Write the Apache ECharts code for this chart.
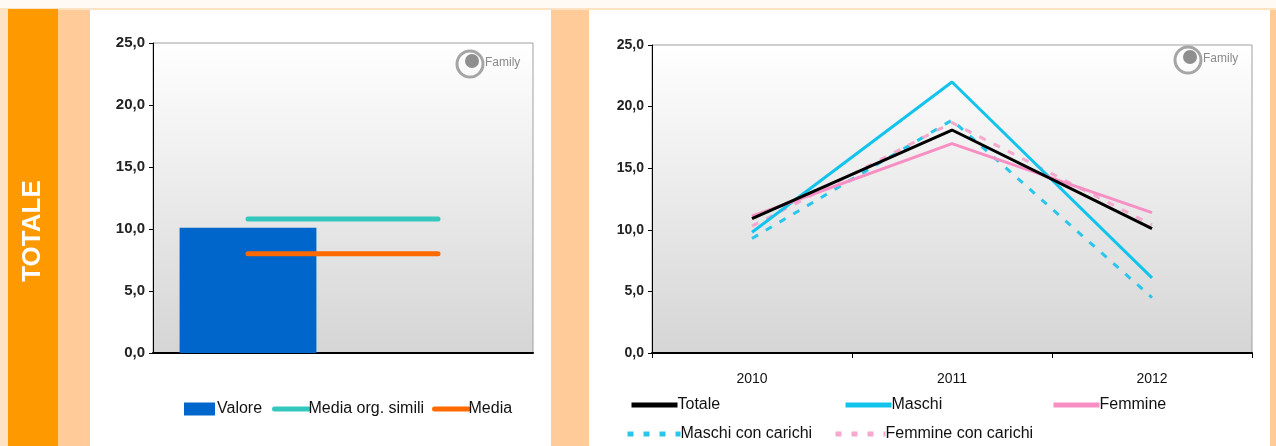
<!DOCTYPE html>
<html>
<head>
<meta charset="utf-8">
<script src="https://cdn.jsdelivr.net/npm/echarts@6/dist/echarts.min.js"></script>
<style>
  body { margin: 0; background: #fff; }
  #wrap { position: relative; width: 1276px; height: 446px; overflow: hidden; background: #fffaf3; }
  .band { position: absolute; }
  #chart { position: absolute; left: 0; top: 0; width: 1276px; height: 446px; }
</style>
</head>
<body>
<div id="wrap">
  <div class="band" style="left:0;top:8px;width:1276px;height:438px;background:#fde2c4;"></div>
  <div class="band" style="left:8px;top:9px;width:50px;height:437px;background:#ff9900;"></div>
  <div class="band" style="left:58px;top:10px;width:32px;height:436px;background:#ffcc99;"></div>
  <div class="band" style="left:90px;top:10px;width:461px;height:436px;background:#ffffff;"></div>
  <div class="band" style="left:551px;top:10px;width:38px;height:436px;background:#ffcc99;"></div>
  <div class="band" style="left:589px;top:10px;width:681px;height:436px;background:#ffffff;"></div>
  <div class="band" style="left:1270px;top:10px;width:6px;height:436px;background:#ffcc99;"></div>
  <div id="chart"></div>
</div>
<script>
// left chart: value vs averages
var leftCats = ['', ''];
var valore = [10.1, null];
var mediaSimili = [10.8, 10.8];
var media = [8.0, 8.0];

// right chart: trend by year
var years = ['2010', '2011', '2012'];
var totale = [10.9, 18.1, 10.1];
var maschi = [9.8, 22.0, 6.1];
var femmine = [11.1, 17.0, 11.4];
var maschiCarichi = [9.3, 18.9, 4.5];
var femmineCarichi = [10.3, 18.7, 10.4];

var yTicks = [0, 5, 10, 15, 20, 25];

var chart = echarts.init(document.getElementById('chart'));

function plotBg() {
  return new echarts.graphic.LinearGradient(0, 0, 0, 1, [
    { offset: 0, color: '#ffffff' },
    { offset: 1, color: '#d5d5d5' }
  ]);
}

function fmt(v) {
  return v.toFixed(1).replace('.', ',');
}

var sans = "'Liberation Sans', Arial, sans-serif";

function yAxis(idx, size) {
  return {
    type: 'value', gridIndex: idx,
    min: yTicks[0], max: yTicks[yTicks.length - 1], interval: 5,
    axisLine: { show: true, lineStyle: { color: '#000', width: 1 } },
    axisTick: { show: true, length: 4, lineStyle: { color: '#000' } },
    splitLine: { show: false },
    axisLabel: { formatter: fmt, color: '#222', fontWeight: 'bold', fontFamily: sans, fontSize: size, margin: 8 }
  };
}

function watermark(x, y) {
  return [
    { type: 'circle', shape: { cx: x, cy: y, r: 13 }, style: { fill: 'none', stroke: '#a5a5a5', lineWidth: 3 } },
    { type: 'circle', shape: { cx: x + 2, cy: y - 3, r: 7 }, style: { fill: '#8f8f8f' } },
    { type: 'text', x: x + 15, y: y - 1, style: { text: 'Family', fill: '#8a8a8a', font: '12px ' + sans, verticalAlign: 'middle' } }
  ];
}

function lineSeries(name, data, color, dashed) {
  return {
    name: name, type: 'line', xAxisIndex: 1, yAxisIndex: 1, data: data,
    symbol: 'none', color: color,
    lineStyle: { color: color, width: 3, type: dashed ? [7, 9] : 'solid' }
  };
}

function lineLegend(name, left, top, width, size, dash) {
  return {
    data: [name], left: left, top: top, orient: 'horizontal',
    itemWidth: width, itemHeight: 14, itemGap: 4,
    itemStyle: { opacity: 0 },
    lineStyle: { width: 5, type: dash ? [6, 10] : 'solid' },
    textStyle: { fontFamily: sans, fontSize: size, color: '#111', padding: [0, 0, 0, -5] }
  };
}

chart.setOption({
  animation: false,
  grid: [
    { left: 153, right: 743, top: 43, bottom: 93, show: true, backgroundColor: plotBg(), borderColor: '#a0a0a0', borderWidth: 1 },
    { left: 652, right: 24, top: 45, bottom: 93, show: true, backgroundColor: plotBg(), borderColor: '#a0a0a0', borderWidth: 1 }
  ],
  xAxis: [
    {
      type: 'category', gridIndex: 0, data: leftCats,
      axisLine: { lineStyle: { color: '#000', width: 2 } },
      axisTick: { show: false }, axisLabel: { show: false }
    },
    {
      type: 'category', gridIndex: 1, data: years,
      axisLine: { lineStyle: { color: '#000', width: 2 } },
      axisTick: { show: true, length: 5, lineStyle: { color: '#000' } },
      axisLabel: { color: '#111', fontFamily: sans, fontSize: 14, margin: 19 }
    }
  ],
  yAxis: [yAxis(0, 15), yAxis(1, 14)],
  legend: [
    {
      data: ['Valore'], left: 179, top: 396, icon: 'rect',
      itemWidth: 31, itemHeight: 13,
      textStyle: { fontFamily: sans, fontSize: 16, color: '#111', padding: [0, 0, 0, -3] }
    },
    lineLegend('Media org. simili', 267, 396, 34, 16, false),
    lineLegend('Media', 427, 396, 34, 16, false),
    lineLegend('Totale', 624, 392, 46, 16, false),
    lineLegend('Maschi', 838, 392, 46, 16, false),
    lineLegend('Femmine', 1046, 392, 46, 16, false),
    lineLegend('Maschi con carichi', 620, 421, 53, 16, true),
    lineLegend('Femmine con carichi', 828, 421, 50, 16, true)
  ],
  graphic: [
    {
      type: 'text', x: 33, y: 231, rotation: Math.PI / 2,
      style: { text: 'TOTALE', fill: '#ffffff', font: 'bold 26px ' + sans, align: 'center', verticalAlign: 'middle' }
    }
  ].concat(watermark(470, 64), watermark(1188, 60)),
  series: [
    {
      name: 'Valore', type: 'bar', xAxisIndex: 0, yAxisIndex: 0, data: valore,
      barWidth: '72%', itemStyle: { color: '#0066cc' }
    },
    {
      name: 'Media org. simili', type: 'line', xAxisIndex: 0, yAxisIndex: 0, data: mediaSimili,
      symbol: 'none', color: '#33c7bd', lineStyle: { color: '#33c7bd', width: 5, cap: 'round' }
    },
    {
      name: 'Media', type: 'line', xAxisIndex: 0, yAxisIndex: 0, data: media,
      symbol: 'none', color: '#ff6a00', lineStyle: { color: '#ff6a00', width: 5, cap: 'round' }
    },
    lineSeries('Maschi con carichi', maschiCarichi, '#29c6ec', true),
    lineSeries('Femmine con carichi', femmineCarichi, '#f6a8cf', true),
    lineSeries('Maschi', maschi, '#12c4ec', false),
    lineSeries('Femmine', femmine, '#f78fc4', false),
    lineSeries('Totale', totale, '#000000', false)
  ]
});
</script>
</body>
</html>
